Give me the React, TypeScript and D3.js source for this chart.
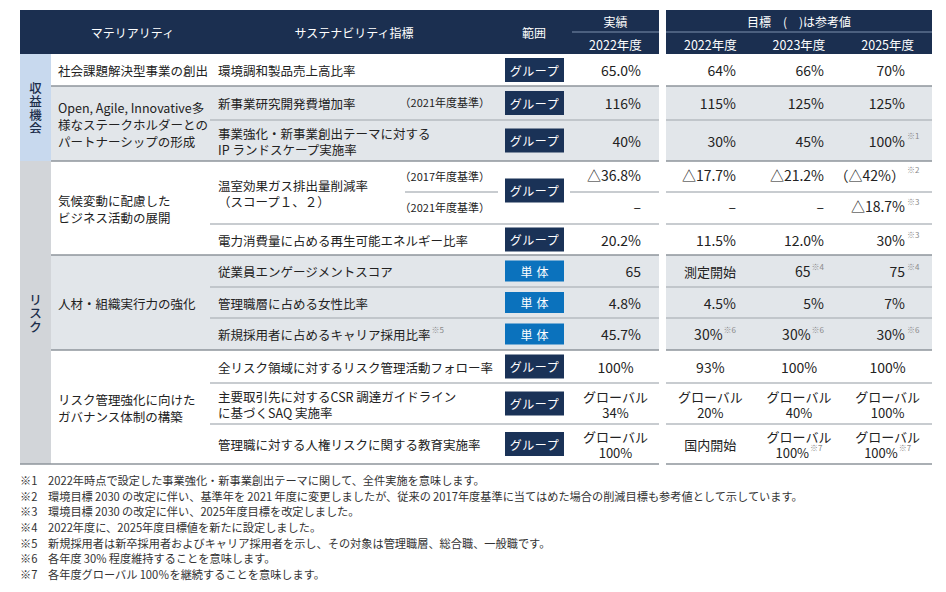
import React from "react";
import * as d3 from "d3";

// ---------- DATA ----------
const categories = ["収益機会", "リスク"];
const categoryRowCounts = [3, 9];

const materialities = [
  "社会課題解決型事業の創出",
  "Open, Agile, Innovative多\n様なステークホルダーとの\nパートナーシップの形成",
  "気候変動に配慮した\nビジネス活動の展開",
  "人材・組織実行力の強化",
  "リスク管理強化に向けた\nガバナンス体制の構築",
];
const materialityRowCounts = [1, 2, 3, 3, 3];

const indicators = [
  "環境調和製品売上高比率",
  "新事業研究開発費増加率",
  "事業強化・新事業創出テーマに対する\nIP ランドスケープ実施率",
  "温室効果ガス排出量削減率\n（スコープ１、２）",
  "電力消費量に占める再生可能エネルギー比率",
  "従業員エンゲージメントスコア",
  "管理職層に占める女性比率",
  "新規採用者に占めるキャリア採用比率※5",
  "全リスク領域に対するリスク管理活動フォロー率",
  "主要取引先に対するCSR 調達ガイドライン\nに基づくSAQ 実施率",
  "管理職に対する人権リスクに関する教育実施率",
];
const indicatorRowCounts = [1, 1, 1, 2, 1, 1, 1, 1, 1, 1, 1];
const scopes = ["グループ", "グループ", "グループ", "グループ", "グループ", "単体", "単体", "単体", "グループ", "グループ", "グループ"];

const baseYears = ["", "（2021年度基準）", "", "（2017年度基準）", "（2021年度基準）", "", "", "", "", "", "", ""];

const actual2022 = ["65.0%", "116%", "40%", "△36.8%", "–", "20.2%", "65", "4.8%", "45.7%", "100%", "グローバル\n34%", "グローバル\n100%"];
const target2022 = ["64%", "115%", "30%", "△17.7%", "–", "11.5%", "測定開始", "4.5%", "30%※6", "93%", "グローバル\n20%", "国内開始"];
const target2023 = ["66%", "125%", "45%", "△21.2%", "–", "12.0%", "65※4", "5%", "30%※6", "100%", "グローバル\n40%", "グローバル\n100%※7"];
const target2025 = ["70%", "125%", "100%※1", "（△42%）※2", "△18.7%※3", "30%※3", "75※4", "7%", "30%※6", "100%", "グローバル\n100%", "グローバル\n100%※7"];

const headerMateriality = "マテリアリティ";
const headerIndicator = "サステナビリティ指標";
const headerScope = "範囲";
const headerActual = "実績";
const headerTarget = "目標　(　)は参考値";
const actualYear = "2022年度";
const targetYears = ["2022年度", "2023年度", "2025年度"];

const footnoteMarks = ["※1", "※2", "※3", "※4", "※5", "※6", "※7"];
const footnotes = [
  "2022年時点で設定した事業強化・新事業創出テーマに関して、全件実施を意味します。",
  "環境目標\u20092030\u2009の改定に伴い、基準年を\u20092021\u2009年度に変更しましたが、従来の\u20092017年度基準に当てはめた場合の削減目標も参考値として示しています。",
  "環境目標\u20092030\u2009の改定に伴い、2025年度目標を改定しました。",
  "2022年度に、2025年度目標値を新たに設定しました。",
  "新規採用者は新卒採用者およびキャリア採用者を示し、その対象は管理職層、総合職、一般職です。",
  "各年度\u200930%\u2009程度維持することを意味します。",
  "各年度グローバル\u2009100％を継続することを意味します。",
];

// ---------- LAYOUT ----------
const W = 946, H = 592;
const FONT = "'Noto Sans CJK JP', 'Noto Sans', sans-serif";
const NAVY = "#1b2f50";
const BADGE_NAVY = "#1a3257";
const BADGE_BLUE = "#0b72bd";
const GREY_BG = "#e2e6ea";
const CAT_BG = ["#c8d9ee", "#d2d5d9"];
const TEXT = "#222";
const GROUP_LINE = "#8e949b";
const SUB_LINE = "#b6bbc1";

const headerTop = 10, headerMid = 32, tableTop = 54;
const rowHeights = [32, 34, 41, 31, 32, 31, 32, 31, 32, 33, 41, 40];
const colX = { cat: 20, mat: 51, ind: 210, base: 405, scope: 498, act: 570, actEnd: 659, tgt: 666, end: 932 };

const rowEdges = [tableTop, ...d3.cumsum(rowHeights).map((v) => tableTop + v)];
const tableBottom = rowEdges[rowEdges.length - 1];

const targetScale = d3.scaleBand<string>().domain(targetYears).range([colX.tgt, colX.end]);
const targetRight = [736, 824, 905];
const actualRight = 641;
const actualCenter = (colX.act + colX.actEnd) / 2 + 1;

function splitSup(s: string): [string, string] {
  const i = s.indexOf("※");
  return i >= 0 ? [s.slice(0, i), s.slice(i)] : [s, ""];
}

function groupRanges(counts: number[]) {
  const out: [number, number][] = [];
  let s = 0;
  counts.forEach((c) => {
    out.push([s, s + c]);
    s += c;
  });
  return out;
}

const catRanges = groupRanges(categoryRowCounts);
const matRanges = groupRanges(materialityRowCounts);
const indRanges = groupRanges(indicatorRowCounts);

function Rich(props: { str: string; x: number; y: number; anchor: string; size: number; color?: string; weight?: number; lh?: number; hang?: boolean }) {
  const { str, x, y, anchor, size, color = TEXT, weight = 400, lh = 16, hang = false } = props;
  const lines = str.split("\n");
  return (
    <g>
      {lines.map((ln, k) => {
        const [main, sup] = splitSup(ln);
        const yy = y + (k - (lines.length - 1) / 2) * lh;
        if (hang) {
          return (
            <g key={k}>
              <text x={x} y={yy} textAnchor={anchor as any} dominantBaseline="central" fontSize={size} fill={color} fontWeight={weight}>{main}</text>
              {sup && (
                <text x={x + 2} y={yy - 5} textAnchor="start" dominantBaseline="central" fontSize={8} fill="#8a8a8a">{sup}</text>
              )}
            </g>
          );
        }
        return (
          <text key={k} x={x} y={yy} textAnchor={anchor as any} dominantBaseline="central" fontSize={size} fill={color} fontWeight={weight}>
            <tspan>{main}</tspan>
            {sup && (
              <tspan fontSize={8} fill="#8a8a8a" dy={-5} dx={1}>{sup}</tspan>
            )}
          </text>
        );
      })}
    </g>
  );
}

export default function App() {
  const valueRows = actual2022.map((_, i) => i);
  const matEnds = new Set(matRanges.map((r) => r[1]));
  const indEnds = new Set(indRanges.map((r) => r[1]));
  const centeredRows = new Set(d3.range(matRanges[4][0], matRanges[4][1]));
  const targets = [target2022, target2023, target2025];

  const hline = (y: number, x1: number, x2: number, color: string, key: string, w = 1.5) => (
    <line key={key} x1={x1} x2={x2} y1={y} y2={y} stroke={color} strokeWidth={w} />
  );

  const lines: any[] = [];
  for (let b = 1; b < rowEdges.length - 1; b++) {
    const y = rowEdges[b];
    if (matEnds.has(b)) {
      lines.push(hline(y, colX.mat, colX.actEnd, GROUP_LINE, `g${b}a`));
      lines.push(hline(y, colX.tgt, colX.end, GROUP_LINE, `g${b}b`));
    } else if (!indEnds.has(b)) {
      lines.push(hline(y, colX.base, colX.scope, SUB_LINE, `s${b}a`));
      lines.push(hline(y, colX.act, colX.actEnd, SUB_LINE, `s${b}b`));
      lines.push(hline(y, colX.tgt, colX.end, SUB_LINE, `s${b}c`));
    } else {
      lines.push(hline(y, colX.ind, colX.actEnd, SUB_LINE, `s${b}a`));
      lines.push(hline(y, colX.tgt, colX.end, SUB_LINE, `s${b}b`));
    }
  }
  lines.push(hline(tableBottom, colX.cat, colX.actEnd, GROUP_LINE, "bot1"));
  lines.push(hline(tableBottom, colX.tgt, colX.end, GROUP_LINE, "bot2"));

  return (
    <svg width={W} height={H} style={{ position: "absolute", left: 0, top: 0, background: "#fff" }} fontFamily={FONT}>
      {/* header */}
      <rect x={colX.cat} y={headerTop} width={colX.actEnd - colX.cat} height={tableTop - headerTop} fill={NAVY} />
      <rect x={colX.tgt} y={headerTop} width={colX.end - colX.tgt} height={tableTop - headerTop} fill={NAVY} />
      <line x1={colX.act + 2} x2={colX.actEnd} y1={headerMid} y2={headerMid} stroke="#7f92ae" strokeWidth={1} />
      <line x1={colX.tgt} x2={colX.end} y1={headerMid} y2={headerMid} stroke="#7f92ae" strokeWidth={1} />
      <text x={(colX.mat + colX.ind) / 2 + 2} y={32} textAnchor="middle" dominantBaseline="central" fontSize={12} fill="#fff">{headerMateriality}</text>
      <text x={(colX.ind + colX.scope) / 2} y={32} textAnchor="middle" dominantBaseline="central" fontSize={12} fill="#fff">{headerIndicator}</text>
      <text x={(colX.scope + colX.act) / 2} y={32} textAnchor="middle" dominantBaseline="central" fontSize={12} fill="#fff">{headerScope}</text>
      <text x={actualCenter} y={21} textAnchor="middle" dominantBaseline="central" fontSize={12} fill="#fff">{headerActual}</text>
      <text x={actualCenter} y={44} textAnchor="middle" dominantBaseline="central" fontSize={12.5} fill="#fff">{actualYear}</text>
      <text x={(colX.tgt + colX.end) / 2} y={21} textAnchor="middle" dominantBaseline="central" fontSize={12} fill="#fff" style={{ whiteSpace: "pre" }}>{headerTarget}</text>
      {targetYears.map((t) => (
        <text key={t} x={(targetScale(t) as number) + targetScale.bandwidth() / 2} y={44} textAnchor="middle" dominantBaseline="central" fontSize={12.5} fill="#fff">{t}</text>
      ))}

      {/* row backgrounds */}
      {matRanges.map((r, gi) =>
        gi % 2 === 1 ? (
          <g key={`bg${gi}`}>
            <rect x={colX.mat} y={rowEdges[r[0]]} width={colX.actEnd - colX.mat} height={rowEdges[r[1]] - rowEdges[r[0]]} fill={GREY_BG} />
            <rect x={colX.tgt} y={rowEdges[r[0]]} width={colX.end - colX.tgt} height={rowEdges[r[1]] - rowEdges[r[0]]} fill={GREY_BG} />
          </g>
        ) : null
      )}

      {/* category column */}
      {catRanges.map((r, ci) => {
        const y0 = rowEdges[r[0]], y1 = rowEdges[r[1]];
        const chars = Array.from(categories[ci]);
        const fs = 12.5;
        const step = 13.5;
        const cy = (y0 + y1) / 2;
        return (
          <g key={`cat${ci}`}>
            <rect x={colX.cat} y={y0} width={colX.mat - colX.cat} height={y1 - y0} fill={CAT_BG[ci]} />
            {chars.map((c, k) => (
              <text key={k} x={(colX.cat + colX.mat) / 2} y={cy + (k - (chars.length - 1) / 2) * step} textAnchor="middle" dominantBaseline="central" fontSize={fs} fontWeight={500} fill="#1c2d4a">{c}</text>
            ))}
          </g>
        );
      })}

      {lines}

      {/* materiality */}
      {matRanges.map((r, gi) => (
        <Rich key={`m${gi}`} str={materialities[gi]} x={58} y={(rowEdges[r[0]] + rowEdges[r[1]]) / 2} anchor="start" size={12.5} lh={17} />
      ))}

      {/* indicators + scope badges */}
      {indRanges.map((r, ii) => {
        const cy = (rowEdges[r[0]] + rowEdges[r[1]]) / 2;
        const isGroup = scopes[ii] === "グループ";
        const bh = isGroup ? 24 : 21;
        const shift = r[1] - r[0] > 1 ? 2 : 0;
        return (
          <g key={`i${ii}`}>
            <Rich str={indicators[ii]} x={218} y={cy} anchor="start" size={12.5} lh={16} />
            <rect x={505} y={cy - bh / 2 - shift} width={59} height={bh} fill={isGroup ? BADGE_NAVY : BADGE_BLUE} />
            <text x={534.5} y={cy - shift} textAnchor="middle" dominantBaseline="central" fontSize={12} fill="#fff" letterSpacing={isGroup ? 0.5 : 4} dx={isGroup ? 0 : 2}>{scopes[ii]}</text>
          </g>
        );
      })}

      {/* base years */}
      {baseYears.map((b, i) =>
        b ? (
          <text key={`b${i}`} x={490} y={(rowEdges[i] + rowEdges[i + 1]) / 2 - 1} textAnchor="end" dominantBaseline="central" fontSize={11} fill={TEXT}>{b}</text>
        ) : null
      )}

      {/* values */}
      {valueRows.map((i) => {
        const cy = (rowEdges[i] + rowEdges[i + 1]) / 2 - (i === 3 || i === 4 ? 2 : 0);
        const centered = centeredRows.has(i);
        return (
          <g key={`v${i}`}>
            <Rich str={actual2022[i]} x={centered ? actualCenter : actualRight} y={cy} anchor={centered ? "middle" : "end"} size={centered && actual2022[i].includes("\n") ? 13 : 14} />
            {targets.map((arr, ti) => {
              const t = targetYears[ti];
              const cx = (targetScale(t) as number) + targetScale.bandwidth() / 2;
              const multi = arr[i].includes("\n") || /[\u3040-\u30ff\u4e00-\u9fff]/.test(arr[i]);
              return (
                <Rich key={ti} str={arr[i]} x={centered ? cx : targetRight[ti]} y={cy} anchor={centered ? "middle" : "end"} size={multi ? 13 : 14} hang={!centered && ti === 2} />
              );
            })}
          </g>
        );
      })}

      {/* footnotes */}
      {footnotes.map((f, k) => (
        <g key={`f${k}`}>
          <text x={20} y={480 + k * 15.65} dominantBaseline="central" fontSize={11.2} fill="#333">{footnoteMarks[k]}</text>
          <text x={48} y={480 + k * 15.65} dominantBaseline="central" fontSize={11.2} fill="#333">{f}</text>
        </g>
      ))}
    </svg>
  );
}
